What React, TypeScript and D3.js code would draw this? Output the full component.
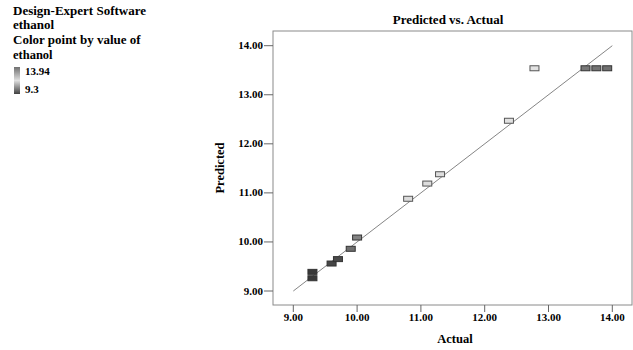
import React from 'react';
import * as d3 from 'd3';

// ethanol: actual vs predicted
const actual = [9.3, 9.3, 9.6, 9.7, 9.9, 10.0, 10.8, 11.1, 11.3, 12.38, 12.78, 13.58, 13.75, 13.92];
const predicted = [9.39, 9.26, 9.56, 9.65, 9.86, 10.09, 10.88, 11.19, 11.38, 12.47, 13.54, 13.54, 13.54, 13.54];
const tickValues = [9, 10, 11, 12, 13, 14];
const legendLines = ['Design-Expert Software', 'ethanol', 'Color point by value of', 'ethanol'];
const colorMin = 9.3, colorMax = 13.94;

const W = 633, H = 350;
const box = {left: 273, right: 632, top: 31, bottom: 305};
const font = '"Liberation Serif", "Times New Roman", serif';

const x = d3.scaleLinear().domain([9, 14]).range([293.3, 612.3]);
const y = d3.scaleLinear().domain([9, 14]).range([291, 45.7]);
const color = d3.scaleLinear<string>()
  .domain([9.3, 9.7, 10.05, 10.8, 12.9, 13.5, 13.94])
  .range(['#383838', '#4a4a4a', '#8c8c8c', '#dcdcdc', '#e2e2e2', '#7a7a7a', '#707070']);
const fmt = d3.format('.2f');

export default function App() {
  const pts = actual.map((a, i) => ({a, p: predicted[i]}));
  const lo = 9, hi = 14;
  return (
    <svg width={W} height={H} style={{position: 'absolute', left: 0, top: 0}} fontFamily={font} fontWeight="bold">
      <defs>
        <linearGradient id="ramp" x1="0" y1="1" x2="0" y2="0">
          <stop offset="0%" stopColor="#404040" />
          <stop offset="50%" stopColor="#e0e0e0" />
          <stop offset="100%" stopColor="#707070" />
        </linearGradient>
      </defs>
      {/* legend */}
      <text x={13} y={15} fontSize={13}>{legendLines[0]}</text>
      <text x={13} y={29} fontSize={13}>{legendLines[1]}</text>
      <text x={13} y={44} fontSize={13}>{legendLines[2]}</text>
      <text x={13} y={58.5} fontSize={12.5}>{legendLines[3]}</text>
      <rect x={14} y={67} width={6} height={27} fill="url(#ramp)" />
      <text x={25} y={75} fontSize={11}>{colorMax}</text>
      <text x={25} y={93} fontSize={11}>{colorMin}</text>

      <text x={448} y={24} fontSize={13} textAnchor="middle">Predicted vs. Actual</text>

      {/* plot box */}
      <rect x={box.left} y={box.top} width={box.right - box.left} height={box.bottom - box.top}
        fill="none" stroke="#8a8a8a" strokeWidth={1} />

      {tickValues.map(t => (
        <g key={'x' + t}>
          <line x1={x(t)} x2={x(t)} y1={box.bottom} y2={box.bottom + 7} stroke="#666" />
          <text x={x(t)} y={321} fontSize={11} textAnchor="middle">{fmt(t)}</text>
        </g>
      ))}
      {tickValues.map(t => (
        <g key={'y' + t}>
          <line x1={box.left - 9} x2={box.left} y1={y(t)} y2={y(t)} stroke="#666" />
          <text x={263} y={y(t) + 3.5} fontSize={11} textAnchor="end">{fmt(t)}</text>
        </g>
      ))}

      <text x={455} y={343} fontSize={12.5} textAnchor="middle">Actual</text>
      <text transform={`translate(224,168) rotate(-90)`} fontSize={12.5} textAnchor="middle">Predicted</text>

      {/* y = x reference */}
      <line x1={x(lo)} y1={y(lo)} x2={x(hi)} y2={y(hi)} stroke="#777" strokeWidth={0.9} />

      {pts.map((d, i) => (
        <rect key={i} x={x(d.a) - 4.5} y={y(d.p) - 2.5} width={9} height={5}
          fill={color(d.a)} stroke={d.a > 10.5 && d.a < 13 ? '#555' : '#333'} strokeWidth={1} />
      ))}
    </svg>
  );
}
